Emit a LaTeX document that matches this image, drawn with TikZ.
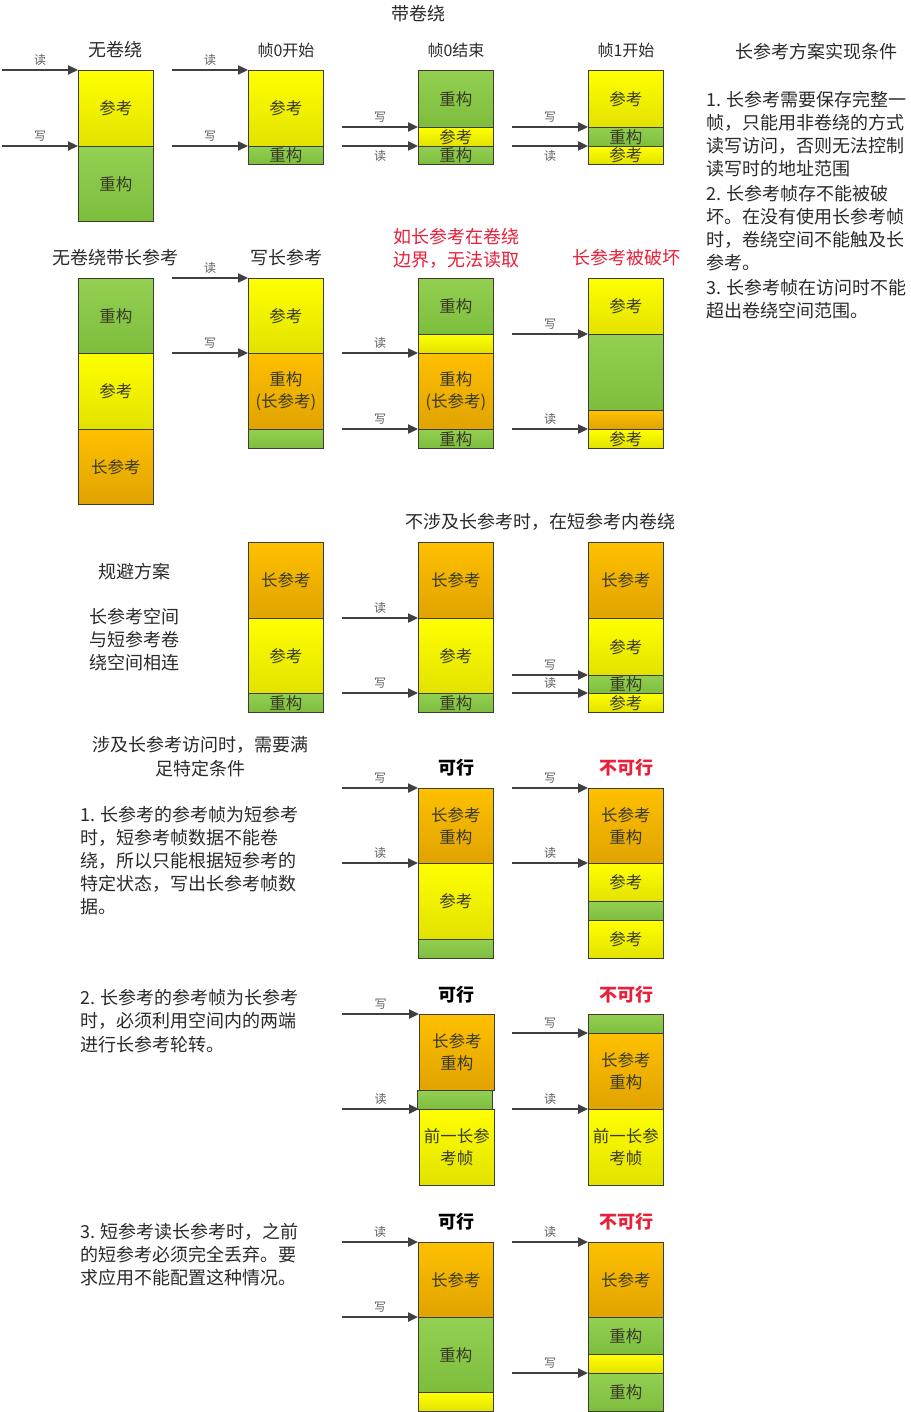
\documentclass[tikz,border=0pt]{standalone}
\usepackage{fontspec}
\setmainfont{Noto Sans CJK SC}
\usetikzlibrary{arrows.meta}
\definecolor{Ya}{HTML}{FFFF00}
\definecolor{Yb}{HTML}{E2E200}
\definecolor{Ga}{HTML}{93D052}
\definecolor{Gb}{HTML}{7DBD3C}
\definecolor{Oa}{HTML}{FFC000}
\definecolor{Ob}{HTML}{E0A300}
\definecolor{edgec}{HTML}{3C3C30}
\definecolor{arrc}{HTML}{404040}
\definecolor{lblc}{HTML}{606060}
\definecolor{txtc}{HTML}{2A2A2A}
\definecolor{segt}{HTML}{3A3A28}
\definecolor{redc}{HTML}{E8203A}
\tikzset{
  seg/.style={draw=edgec, line width=0.8pt, minimum width=75pt, inner sep=0pt, anchor=north west,
    text=segt, font=\fontsize{16.5}{22}\selectfont, align=center},
  yel/.style={top color=Ya, bottom color=Yb},
  grn/.style={top color=Ga, bottom color=Gb},
  org/.style={top color=Oa, bottom color=Ob},
  arr/.style={draw=arrc, line width=2.3pt, -{Triangle[length=10pt,width=9pt]}},
  lbl/.style={font=\fontsize{12}{12}\selectfont, text=lblc, inner sep=0pt},
  ttl/.style={font=\fontsize{18}{18}\selectfont, text=txtc, inner sep=0pt},
  sttl/.style={font=\fontsize{16}{16}\selectfont, text=txtc, inner sep=0pt},
  rttl/.style={font=\fontsize{18}{18}\selectfont, text=redc, inner sep=0pt},
  okt/.style={font=\fontsize{18}{18}\selectfont\bfseries, text=black, inner sep=0pt},
  nokt/.style={font=\fontsize{18}{18}\selectfont\bfseries, text=redc, inner sep=0pt},
  para/.style={font=\fontsize{18}{18}\selectfont, text=txtc, inner sep=0pt, anchor=west},
}
\newcommand\sg[6]{\node[seg,#5,minimum height=#4pt] (#1) at (#2,#3) {#6};}
\newcommand\ar[6]{\coordinate (#1) at (#2,#3);\draw[arr] (#1) -- node[lbl,yshift=#6] (#1l) {#5} (#4.north west);}
\newcommand\tl[5]{\node[#4] (#1) at (#2,#3) {#5};}
\begin{document}
\begin{tikzpicture}[x=1pt,y=-1pt]
\fill[white] (0,0) rectangle (910,1412);
\useasboundingbox (0,0) rectangle (910,1412);

% ---------- Row 1 ----------
\tl{t0}{418}{14}{ttl}{带卷绕}
\tl{t1}{115}{50}{ttl}{无卷绕}
\tl{t2}{286}{50}{sttl}{帧0开始}
\tl{t3}{456}{50}{sttl}{帧0结束}
\tl{t4}{626}{50}{sttl}{帧1开始}
\tl{t5}{816}{52}{ttl}{长参考方案实现条件}

\sg{a1}{78}{70}{76}{yel}{参考}
\sg{a2}{78}{146}{75}{grn}{重构}
\sg{b1}{248}{70}{76}{yel}{参考}
\sg{b2}{248}{146}{18}{grn}{重构}
\sg{c1}{418}{70}{57}{grn}{重构}
\sg{c2}{418}{127}{19}{yel}{参考}
\sg{c3}{418}{146}{18}{grn}{重构}
\sg{d1}{588}{70}{57}{yel}{参考}
\sg{d2}{588}{127}{19}{grn}{重构}
\sg{d3}{588}{146}{18}{yel}{参考}

\ar{pa1}{2}{70}{a1}{读}{10pt}
\ar{pa2}{2}{146}{a2}{写}{10pt}
\ar{pb1}{172}{70}{b1}{读}{10pt}
\ar{pb2}{172}{146}{b2}{写}{10pt}
\ar{pc1}{342}{127}{c2}{写}{10pt}
\ar{pc2}{342}{146}{c3}{读}{-10pt}
\ar{pd1}{512}{127}{d2}{写}{10pt}
\ar{pd2}{512}{146}{d3}{读}{-10pt}

% right text block
\tl{r1}{706}{100}{para}{1. 长参考需要保存完整一}
\tl{r2}{706}{123}{para}{帧，只能用非卷绕的方式}
\tl{r3}{706}{146}{para}{读写访问，否则无法控制}
\tl{r4}{706}{169}{para}{读写时的地址范围}
\tl{r5}{706}{194}{para}{2. 长参考帧存不能被破}
\tl{r6}{706}{217}{para}{坏。在没有使用长参考帧}
\tl{r7}{706}{240}{para}{时，卷绕空间不能触及长}
\tl{r8}{706}{263}{para}{参考。}
\tl{r9}{706}{288}{para}{3. 长参考帧在访问时不能}
\tl{r10}{706}{311}{para}{超出卷绕空间范围。}

% ---------- Row 2 ----------
\tl{u1}{115}{258}{ttl}{无卷绕带长参考}
\tl{u2}{286}{258}{ttl}{写长参考}
\tl{u3}{456}{237}{rttl}{如长参考在卷绕}
\tl{u3b}{456}{260}{rttl}{边界，无法读取}
\tl{u4}{626}{258}{rttl}{长参考被破坏}

\sg{e1}{78}{278}{75}{grn}{重构}
\sg{e2}{78}{353}{76}{yel}{参考}
\sg{e3}{78}{429}{75}{org}{长参考}
\sg{f1}{248}{278}{75}{yel}{参考}
\sg{f2}{248}{353}{76}{org}{重构\\(长参考)}
\sg{f3}{248}{429}{19}{grn}{}
\sg{g1}{418}{278}{56}{grn}{重构}
\sg{g2}{418}{334}{19}{yel}{}
\sg{g3}{418}{353}{76}{org}{重构\\(长参考)}
\sg{g4}{418}{429}{19}{grn}{重构}
\sg{h1}{588}{278}{56}{yel}{参考}
\sg{h2}{588}{334}{76}{grn}{}
\sg{h3}{588}{410}{19}{org}{}
\sg{h4}{588}{429}{19}{yel}{参考}

\ar{pf1}{172}{278}{f1}{读}{10pt}
\ar{pf2}{172}{353}{f2}{写}{10pt}
\ar{pg1}{342}{353}{g3}{读}{10pt}
\ar{pg2}{342}{429}{g4}{写}{10pt}
\ar{ph1}{512}{334}{h2}{写}{10pt}
\ar{ph2}{512}{429}{h4}{读}{10pt}

% ---------- Row 3 ----------
\tl{v0}{540}{522}{ttl}{不涉及长参考时，在短参考内卷绕}
\tl{v1}{134}{572}{ttl}{规避方案}
\tl{v2}{134}{617}{ttl}{长参考空间}
\tl{v3}{134}{640}{ttl}{与短参考卷}
\tl{v4}{134}{663}{ttl}{绕空间相连}

\sg{i1}{248}{542}{76}{org}{长参考}
\sg{i2}{248}{618}{75}{yel}{参考}
\sg{i3}{248}{693}{19}{grn}{重构}
\sg{j1}{418}{542}{76}{org}{长参考}
\sg{j2}{418}{618}{75}{yel}{参考}
\sg{j3}{418}{693}{19}{grn}{重构}
\sg{k1}{588}{542}{76}{org}{长参考}
\sg{k2}{588}{618}{57}{yel}{参考}
\sg{k3}{588}{675}{18}{grn}{重构}
\sg{k4}{588}{693}{19}{yel}{参考}

\ar{pj1}{342}{618}{j2}{读}{10pt}
\ar{pj2}{342}{693}{j3}{写}{10pt}
\ar{pk1}{512}{675}{k3}{写}{10pt}
\ar{pk2}{512}{693}{k4}{读}{10pt}

% ---------- Row 4 ----------
\tl{w0}{200}{745}{ttl}{涉及长参考访问时，需要满}
\tl{w0b}{200}{769}{ttl}{足特定条件}
\tl{w1}{456}{768}{okt}{可行}
\tl{w2}{626}{768}{nokt}{不可行}
\tl{w3}{80}{815}{para}{1. 长参考的参考帧为短参考}
\tl{w4}{80}{838}{para}{时，短参考帧数据不能卷}
\tl{w5}{80}{861}{para}{绕，所以只能根据短参考的}
\tl{w6}{80}{884}{para}{特定状态，写出长参考帧数}
\tl{w7}{80}{907}{para}{据。}

\sg{l1}{418}{788}{75}{org}{长参考\\重构}
\sg{l2}{418}{863}{76}{yel}{参考}
\sg{l3}{418}{939}{19}{grn}{}
\sg{m1}{588}{788}{75}{org}{长参考\\重构}
\sg{m2}{588}{863}{38}{yel}{参考}
\sg{m3}{588}{901}{19}{grn}{}
\sg{m4}{588}{920}{38}{yel}{参考}

\ar{pl1}{342}{788}{l1}{写}{10pt}
\ar{pl2}{342}{863}{l2}{读}{10pt}
\ar{pm1}{512}{788}{m1}{写}{10pt}
\ar{pm2}{512}{863}{m2}{读}{10pt}

% ---------- Row 5 ----------
\tl{x1}{456}{995}{okt}{可行}
\tl{x2}{626}{995}{nokt}{不可行}
\tl{x3}{80}{998}{para}{2. 长参考的参考帧为长参考}
\tl{x4}{80}{1021}{para}{时，必须利用空间内的两端}
\tl{x5}{80}{1045}{para}{进行长参考轮转。}

\sg{n1}{419}{1014}{76}{org}{长参考\\重构}
\sg{n2}{417}{1090}{19}{grn}{}
\sg{n3}{419}{1109}{76}{yel}{前一长参\\考帧}
\sg{o1}{588}{1014}{19}{grn}{}
\sg{o2}{588}{1033}{76}{org}{长参考\\重构}
\sg{o3}{588}{1109}{76}{yel}{前一长参\\考帧}

\ar{pn1}{342}{1014}{n1}{写}{10pt}
\ar{pn2}{342}{1109}{n3}{读}{10pt}
\ar{po1}{512}{1033}{o2}{写}{10pt}
\ar{po2}{512}{1109}{o3}{读}{10pt}

% ---------- Row 6 ----------
\tl{y1}{456}{1222}{okt}{可行}
\tl{y2}{626}{1222}{nokt}{不可行}
\tl{y3}{80}{1232}{para}{3. 短参考读长参考时，之前}
\tl{y4}{80}{1255}{para}{的短参考必须完全丢弃。要}
\tl{y5}{80}{1278}{para}{求应用不能配置这种情况。}

\sg{q1}{418}{1242}{75}{org}{长参考}
\sg{q2}{418}{1317}{75}{grn}{重构}
\sg{q3}{418}{1392}{19}{yel}{}
\sg{s1}{588}{1242}{75}{org}{长参考}
\sg{s2}{588}{1317}{37}{grn}{重构}
\sg{s3}{588}{1354}{19}{yel}{}
\sg{s4}{588}{1373}{38}{grn}{重构}

\ar{pq1}{342}{1242}{q1}{读}{10pt}
\ar{pq2}{342}{1317}{q2}{写}{10pt}
\ar{ps1}{512}{1242}{s1}{读}{10pt}
\ar{ps2}{512}{1373}{s4}{写}{10pt}
\end{tikzpicture}
\end{document}
